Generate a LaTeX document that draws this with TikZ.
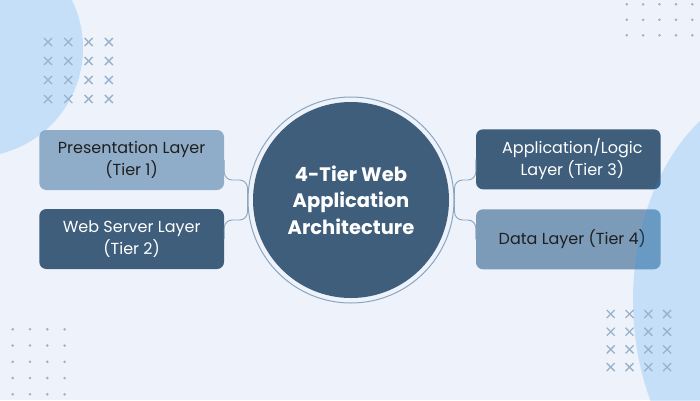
\documentclass[tikz,border=0pt]{standalone}
\usepackage{fontspec}
\setmainfont{Poppins}
\usetikzlibrary{calc}
\definecolor{bg}{HTML}{EEF2FB}
\definecolor{darkbox}{HTML}{3E5E7B}
\definecolor{lightbox}{HTML}{8FADC8}
\definecolor{midbox}{HTML}{7B9BB8}
\definecolor{lineblue}{HTML}{8AA6C1}
\definecolor{deco}{HTML}{9AB1C8}
\definecolor{blob}{HTML}{2196F3}
\definecolor{txtdark}{HTML}{1F1F1F}
\begin{document}
\begin{tikzpicture}[x=1pt,y=-1pt,
  layerbox/.style={rounded corners=7pt, minimum width=184.7pt, minimum height=60pt,
    align=center, inner sep=0pt, font=\fontsize{16}{21.7}\selectfont},
  conn/.style={draw=lineblue, line width=0.9pt, rounded corners=8pt},
  xmark/.style={draw=deco, line width=1.3pt},
  dotmark/.style={fill=deco}]
\fill[bg] (0,0) rectangle (700,400);
\useasboundingbox (0,0) rectangle (700,400);

% layer boxes
\node[layerbox, fill=lightbox, text=txtdark] (b1) at (131.65,160) {Presentation Layer\\(Tier 1)};
\node[layerbox, fill=darkbox, text=white] (b2) at (131.65,239) {Web Server Layer\\(Tier 2)};
\node[layerbox, fill=darkbox, text=white] (b3) at (568.35,159.3) {\hspace*{8pt}Application/Logic\\\hspace*{8pt}Layer (Tier 3)};
\node[layerbox, fill=midbox, text=txtdark] (b4) at (568.35,239.3) {\hspace*{8pt}Data Layer (Tier 4)};

% hub
\node[circle, fill=darkbox, minimum size=196pt, inner sep=0pt, text=white, align=center,
  font=\bfseries\fontsize{19.5}{26.6}\selectfont] (hub) at (351,200) {4-Tier Web\\Application\\Architecture};
\node[circle, draw=lineblue, line width=1pt, minimum size=206pt, inner sep=0pt] (ring) at (351,200) {};

% connectors
\draw[conn] (b1.east) |- ($(ring.west)+(0,-20)$) -- (ring.west);
\draw[conn] (b2.east) |- ($(ring.west)+(0,20)$) -- (ring.west);
\draw[conn] (b3.west) |- ($(ring.east)+(0,-20)$) -- (ring.east);
\draw[conn] (b4.west) |- ($(ring.east)+(0,20)$) -- (ring.east);

% decorative blobs
\fill[blob, opacity=0.2] (-26,48) circle (109pt);
\fill[blob, opacity=0.2] (783,300) ellipse [x radius=150pt, y radius=215pt];

% crosses
\foreach \i in {0,...,3}{
  \foreach \j in {0,...,3}{
    \draw[xmark] ($(48+20.3*\i,42+19*\j)+(-4,-4)$) -- ++(8,8);
    \draw[xmark] ($(48+20.3*\i,42+19*\j)+(-4,4)$) -- ++(8,-8);
    \draw[xmark] ($(610.7+18.8*\i,314+17.7*\j)+(-4,-4)$) -- ++(8,8);
    \draw[xmark] ($(610.7+18.8*\i,314+17.7*\j)+(-4,4)$) -- ++(8,-8);
  }
}
% dots
\foreach \i in {0,...,4}{
  \foreach \j in {0,...,2}{
    \fill[dotmark] (626.7+16.4*\i,4.3+15.5*\j) circle (1.4pt);
  }
}
\foreach \i in {0,...,3}{
  \foreach \j in {0,...,4}{
    \fill[dotmark] (12.7+17.3*\i,329.3+16.25*\j) circle (1.4pt);
  }
}
\end{tikzpicture}
\end{document}
